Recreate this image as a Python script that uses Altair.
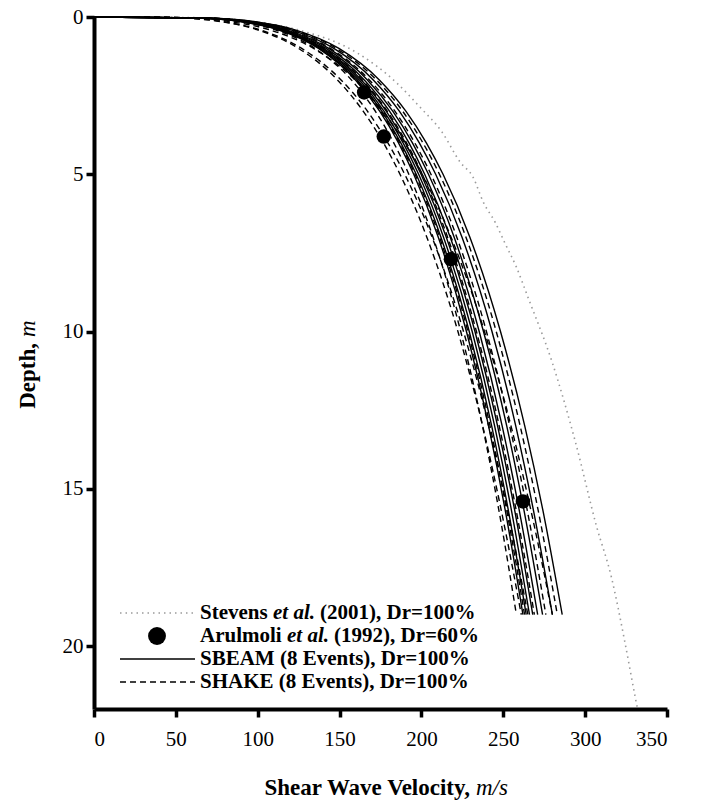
import altair as alt
import pandas as pd

# ---------------- data ----------------
depth_pts = [0, 0.03, 0.15, 0.4, 1, 2, 3, 4, 5, 7, 10, 13, 16, 19]

sbeam_runs = [
    [0, 63.4, 90.3, 112.1, 137.1, 159.7, 174.6, 186.0, 195.3, 210.3, 227.5, 241.0, 252.3, 262],
    [0, 63.9, 91.0, 112.9, 138.1, 160.9, 175.9, 187.4, 196.8, 211.9, 229.2, 242.9, 254.2, 264],
    [0, 64.3, 91.7, 113.8, 139.2, 162.1, 177.2, 188.8, 198.3, 213.5, 231.0, 244.7, 256.1, 266],
    [0, 64.8, 92.4, 114.6, 140.2, 163.3, 178.6, 190.2, 199.8, 215.2, 232.7, 246.5, 258.1, 268],
    [0, 65.6, 93.4, 115.9, 141.8, 165.1, 180.6, 192.4, 202.0, 217.6, 235.3, 249.3, 260.9, 271],
    [0, 66.3, 94.4, 117.2, 143.4, 167.0, 182.6, 194.5, 204.3, 220.0, 237.9, 252.1, 263.8, 274],
    [0, 67.7, 96.5, 119.8, 146.5, 170.6, 186.6, 198.7, 208.7, 224.8, 243.1, 257.6, 269.6, 280],
    [0, 69.2, 98.6, 122.3, 149.6, 174.3, 190.6, 203.0, 213.2, 229.6, 248.3, 263.1, 275.4, 286],
]

shake_runs = [
    [0, 62.4, 88.9, 110.3, 135.0, 157.2, 171.9, 183.1, 192.3, 207.1, 224.0, 237.3, 248.4, 258],
    [0, 52.0, 77.8, 99.4, 125.0, 148.7, 164.5, 176.8, 186.9, 203.3, 222.3, 237.4, 250.0, 261],
    [0, 63.6, 90.7, 112.5, 137.6, 160.3, 175.2, 186.7, 196.1, 211.1, 228.4, 241.9, 253.2, 263],
    [0, 52.8, 79.0, 100.9, 126.9, 150.9, 167.1, 179.5, 189.8, 206.5, 225.7, 241.0, 253.9, 265],
    [0, 65.1, 92.7, 115.1, 140.7, 163.9, 179.2, 190.9, 200.5, 216.0, 233.6, 247.5, 259.0, 269],
    [0, 66.8, 95.1, 118.0, 144.4, 168.2, 183.9, 195.9, 205.8, 221.6, 239.7, 253.9, 265.8, 276],
    [0, 55.8, 83.5, 106.7, 134.1, 159.5, 176.5, 189.7, 200.5, 218.1, 238.5, 254.7, 268.2, 280],
    [0, 68.5, 97.6, 121.0, 148.1, 172.5, 188.6, 200.9, 211.0, 227.2, 245.7, 260.3, 272.5, 283],
]

stevens_depth = [0, 0.02, 0.1, 0.4, 1.14, 2.1, 2.86, 3.66, 4.61, 5.09, 5.91, 6.52,
                 7.19, 7.95, 8.9, 11.0, 13.5, 16.2, 17.8, 19.8, 21.6, 22.0]
stevens_vs = [0, 60, 89, 124, 160.7, 185, 199, 212.6, 223.6, 231.5, 238, 245,
              251, 258, 265, 280, 294, 307, 316, 324, 330.5, 332]

arulmoli_vs = [165, 177, 218, 262]
arulmoli_depth = [2.4, 3.8, 7.7, 15.4]

x_ticks = [0, 50, 100, 150, 200, 250, 300, 350]
y_ticks = [0, 5, 10, 15, 20]

# ---------------- tables ----------------
rows = []
for i, run in enumerate(sbeam_runs):
    for d, v in zip(depth_pts, run):
        rows.append({"run": f"sbeam{i}", "depth": d, "vs": v})
sbeam_df = pd.DataFrame(rows)
rows = []
for i, run in enumerate(shake_runs):
    for d, v in zip(depth_pts, run):
        rows.append({"run": f"shake{i}", "depth": d, "vs": v})
shake_df = pd.DataFrame(rows)
stevens_df = pd.DataFrame({"depth": stevens_depth, "vs": stevens_vs})
arul_df = pd.DataFrame({"depth": arulmoli_depth, "vs": arulmoli_vs})

SERIF = "Liberation Serif"
W, H = 573, 692

xs = alt.Scale(domain=[0, 350], nice=False, zero=False)
ys = alt.Scale(domain=[0, 22], nice=False, reverse=True, zero=False)
xaxis = alt.Axis(values=x_ticks, title=None, grid=False, labelPadding=11)
yaxis = alt.Axis(values=y_ticks, title=None, grid=False, labelPadding=3)
X = alt.X("vs:Q", scale=xs, axis=xaxis)
Y = alt.Y("depth:Q", scale=ys, axis=yaxis)

stevens = alt.Chart(stevens_df).mark_line(
    color="#9a9a9a", strokeWidth=1.6, strokeDash=[1.5, 4], interpolate="monotone"
).encode(x=X, y=Y, order="depth:Q")

sbeam = alt.Chart(sbeam_df).mark_line(
    color="#000000", strokeWidth=1.4, interpolate="monotone"
).encode(x=X, y=Y, detail="run:N", order="depth:Q")

shake = alt.Chart(shake_df).mark_line(
    color="#000000", strokeWidth=1.4, strokeDash=[6, 4], interpolate="monotone"
).encode(x=X, y=Y, detail="run:N", order="depth:Q")

arul = alt.Chart(arul_df).mark_point(
    shape="circle", filled=True, color="#000000", opacity=1, size=210
).encode(x=X, y=Y)


def txt(s, x, y, size=21, weight="bold", style="normal", align="left", angle=0, baseline="middle"):
    return alt.Chart(pd.DataFrame({"t": [s]})).mark_text(
        font=SERIF, fontSize=size, fontWeight=weight, fontStyle=style,
        align=align, baseline=baseline, angle=angle, color="#000000"
    ).encode(text="t:N", x=alt.value(x), y=alt.value(y))


# legend (inside plot, lower left)
lx0, lx1, tx = 26, 101, 106
r1, r2, r3, r4 = 596, 619, 642, 665
leg_stevens = alt.Chart(pd.DataFrame({"a": [0]})).mark_rule(
    color="#9a9a9a", strokeWidth=1.6, strokeDash=[1.5, 4]
).encode(x=alt.value(lx0), x2=alt.value(lx1), y=alt.value(r1))
leg_dot = alt.Chart(pd.DataFrame({"a": [0]})).mark_point(
    shape="circle", filled=True, color="#000000", opacity=1, size=320
).encode(x=alt.value(63), y=alt.value(r2))
leg_sbeam = alt.Chart(pd.DataFrame({"a": [0]})).mark_rule(
    color="#000000", strokeWidth=1.4
).encode(x=alt.value(lx0), x2=alt.value(lx1), y=alt.value(r3))
leg_shake = alt.Chart(pd.DataFrame({"a": [0]})).mark_rule(
    color="#000000", strokeWidth=1.4, strokeDash=[6, 4]
).encode(x=alt.value(lx0), x2=alt.value(lx1), y=alt.value(r4))

legend_texts = [
    txt("Stevens ", tx, r1),
    txt("et al.", tx + 73, r1, style="italic"),
    txt("(2001), Dr=100%", tx + 120, r1),
    txt("Arulmoli ", tx, r2),
    txt("et al.", tx + 87, r2, style="italic"),
    txt("(1992), Dr=60%", tx + 134, r2),
    txt("SBEAM (8 Events), Dr=100%", tx, r3),
    txt("SHAKE (8 Events), Dr=100%", tx, r4),
]

# axis titles with mixed bold / italic (positions relative to the plot area)
titles = [
    txt("Shear Wave Velocity,", 376, 771, size=23, align="right"),
    txt("m/s", 382, 771, size=23, weight="normal", style="italic"),
    txt("Depth,", -66, 326, size=23, align="right", angle=270),
    txt("m", -66, 320, size=23, weight="normal", style="italic", align="left", angle=270),
]

chart = alt.layer(
    stevens, sbeam, shake, arul,
    leg_stevens, leg_dot, leg_sbeam, leg_shake,
    *legend_texts, *titles
).properties(
    width=W, height=H,
    autosize=alt.AutoSizeParams(type="none"),
    padding={"left": 94, "top": 17, "right": 36, "bottom": 94},
    background="white",
).configure_view(stroke=None).configure_axis(
    domainColor="#000000", domainWidth=4, tickColor="#000000", tickWidth=3.5,
    tickSize=8, labelFont=SERIF, labelFontSize=21, labelColor="#000000",
)

chart.save("out.html", embed_options={"renderer": "svg", "actions": False})
